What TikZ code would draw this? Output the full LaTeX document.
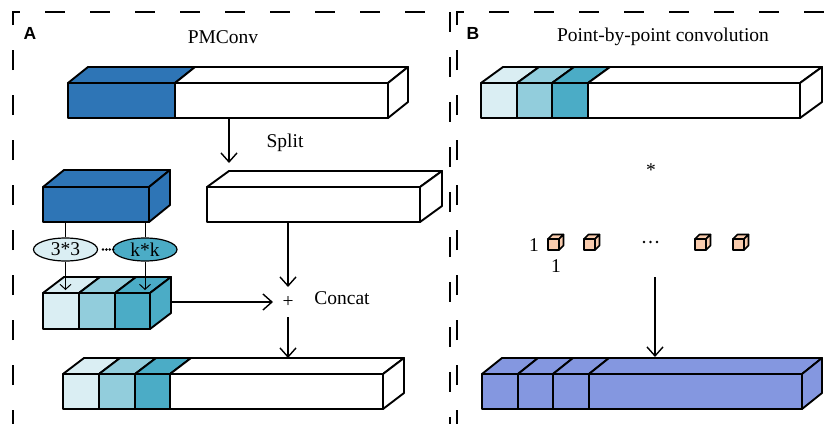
\documentclass[tikz,border=0pt]{standalone}
\usepackage{fontspec}
\setmainfont{Liberation Serif}
\newfontfamily\panelfont{Liberation Sans}
\usetikzlibrary{arrows.meta,calc,shapes.geometric}

\definecolor{deepblue}{HTML}{2E75B6}
\definecolor{aquaA}{HTML}{DAEEF3}
\definecolor{aquaB}{HTML}{92CDDC}
\definecolor{aquaC}{HTML}{4BACC6}
\definecolor{outblue}{HTML}{8497E0}
\definecolor{peach}{HTML}{F8CBAD}

\tikzset{
  face/.style={draw=black, line width=1.9pt, line join=round, inner sep=0pt, outer sep=0pt},
  flow/.style={line width=1.4pt, -{Straight Barb[length=9pt,width=16pt,line width=1.4pt]}},
  thinflow/.style={line width=1pt, -{Straight Barb[length=5pt,width=11pt,line width=1pt]}},
  link/.style={line width=1pt},
  txt/.style={font=\fontsize{19.5}{23}\selectfont, inner sep=0pt},
  panellabel/.style={font=\panelfont\bfseries\fontsize{17.5}{20}\selectfont, inner sep=0pt},
  border/.style={line width=1.8pt, dash pattern=on 20pt off 25pt},
  kernel/.style={ellipse, draw, line width=1.2pt, minimum width=64pt, minimum height=23pt,
    inner sep=0pt, font=\fontsize{19.5}{23}\selectfont},
  dotrow/.style={line width=2.8pt, line cap=round},
}

% one segment of a 3-D slab: front face (named node) plus its top face
\newcommand{\barseg}[6]{%
  \node[face, fill=#6, minimum width=#4pt, minimum height=#5pt, anchor=north west] (#1) at (#2,#3) {};
  \draw[face, fill=#6] (#1.north west) -- ++(\offx,\offy)
    -- ([shift={(\offx,\offy)}]#1.north east) -- (#1.north east) -- cycle;}
% right-hand side face of a slab
\newcommand{\barside}[2]{%
  \draw[face, fill=#2] (#1.north east) -- ++(\offx,\offy)
    -- ([shift={(\offx,\offy)}]#1.south east) -- (#1.south east) -- cycle;}

\begin{document}
\begin{tikzpicture}[x=1pt,y=-1pt]
\useasboundingbox (0,0) rectangle (826,423);

% dashed panel frames
\begin{scope}
  \clip (0,0) rectangle (826,423);
  \draw[border] (13,430) -- (13,12) -- (450,12) -- (450,430);
  \draw[border] (457,430) -- (457,12) -- (840,12);
\end{scope}

% ---------------- panel A ----------------
\node[panellabel] (labA) at (30,33) {A};
\node[txt] (titleA) at (223,37) {PMConv};

% input feature map
\def\offx{20}\def\offy{-16}
\barseg{ta1}{68}{83}{107}{35}{deepblue}
\barseg{ta2}{175}{83}{213}{35}{white}
\barside{ta2}{white}

% identity part after split
\def\offx{22}\def\offy{-16}
\barseg{wb}{207}{187}{213}{35}{white}
\barside{wb}{white}

\coordinate (splitfrom) at ($(ta2.south west)+(54,0)$);
\coordinate (splitto) at ($(wb.north west)+(22,-24)$);
\draw[flow] (splitfrom) -- (splitto);
\node[txt] (split) at (285,143) {Split};

% part for multi-scale kernels
\def\offx{21}\def\offy{-17}
\barseg{kb}{43}{187}{106}{35}{deepblue}
\barside{kb}{deepblue}

\node[kernel, fill=aquaA] (k3) at (65.5,249.5) {3*3};
\node[kernel, fill=aquaC] (kk) at (145,249.5) {k*k};
\draw[link] (k3.north |- kb.south) -- (k3.north);
\draw[link] (kk.north |- kb.south) -- (kk.north);
\draw[dotrow, dash pattern=on 0pt off 3.4pt] (103,249.5) -- (114,249.5);

% kernel outputs
\def\offx{21}\def\offy{-16}
\barseg{c1}{43}{293}{36}{36}{aquaA}
\barseg{c2}{79}{293}{36}{36}{aquaB}
\barseg{c3}{115}{293}{35}{36}{aquaC}
\barside{c3}{aquaC}
\draw[thinflow] (k3.south) -- ($(k3.south |- c1.north)+(0,-3)$);
\draw[thinflow] (kk.south) -- ($(kk.south |- c1.north)+(0,-3)$);

% concatenation
\node[txt] (plus) at (288,302) {+};
\node[txt] (concat) at (342,298) {Concat};
\draw[flow] ($(wb.south west)+(81,0)$) -- ($(plus.center)+(0,-15)$);
\draw[flow] ($(c3.east)+(22,-9)$) -- ($(plus.center)+(-15,0)$);

% output feature map
\def\offx{21}\def\offy{-16}
\barseg{bl1}{63}{374}{36}{35}{aquaA}
\barseg{bl2}{99}{374}{36}{35}{aquaB}
\barseg{bl3}{135}{374}{35}{35}{aquaC}
\barseg{bl4}{170}{374}{213}{35}{white}
\barside{bl4}{white}
\draw[flow] ($(plus.center)+(0,15)$) -- ($(bl4.north west)+(118,-16)$);

% ---------------- panel B ----------------
\node[panellabel] (labB) at (473,33) {B};
\node[txt] (titleB) at (663,37) {Point-by-point convolution};

\def\offx{22}\def\offy{-16}
\barseg{rt1}{481}{83}{36}{35}{aquaA}
\barseg{rt2}{517}{83}{35}{35}{aquaB}
\barseg{rt3}{552}{83}{36}{35}{aquaC}
\barseg{rt4}{588}{83}{212}{35}{white}
\barside{rt4}{white}

\node[txt] (star) at (651,170) {*};

% 1x1 kernels
\begin{scope}[face/.append style={line width=1.6pt}]
  \def\offx{4.5}\def\offy{-4.5}
  \barseg{p1}{548}{239}{11}{11}{peach}\barside{p1}{peach}
  \barseg{p2}{584}{239}{11}{11}{peach}\barside{p2}{peach}
  \barseg{p3}{695}{239}{11}{11}{peach}\barside{p3}{peach}
  \barseg{p4}{733}{239}{11}{11}{peach}\barside{p4}{peach}
\end{scope}
\node[txt] (one1) at (534,245) {1};
\node[txt] (one2) at (556,266) {1};
\draw[dotrow, dash pattern=on 0pt off 6.5pt] (644,242) -- (658,242);

% output of point-wise convolution
\def\offx{20}\def\offy{-16}
\barseg{rb1}{482}{374}{36}{35}{outblue}
\barseg{rb2}{518}{374}{35}{35}{outblue}
\barseg{rb3}{553}{374}{36}{35}{outblue}
\barseg{rb4}{589}{374}{213}{35}{outblue}
\barside{rb4}{outblue}

\coordinate (pwfrom) at (655,277);
\draw[flow] (pwfrom) -- ($(rb4.north west)+(66,-17)$);
\end{tikzpicture}
\end{document}
